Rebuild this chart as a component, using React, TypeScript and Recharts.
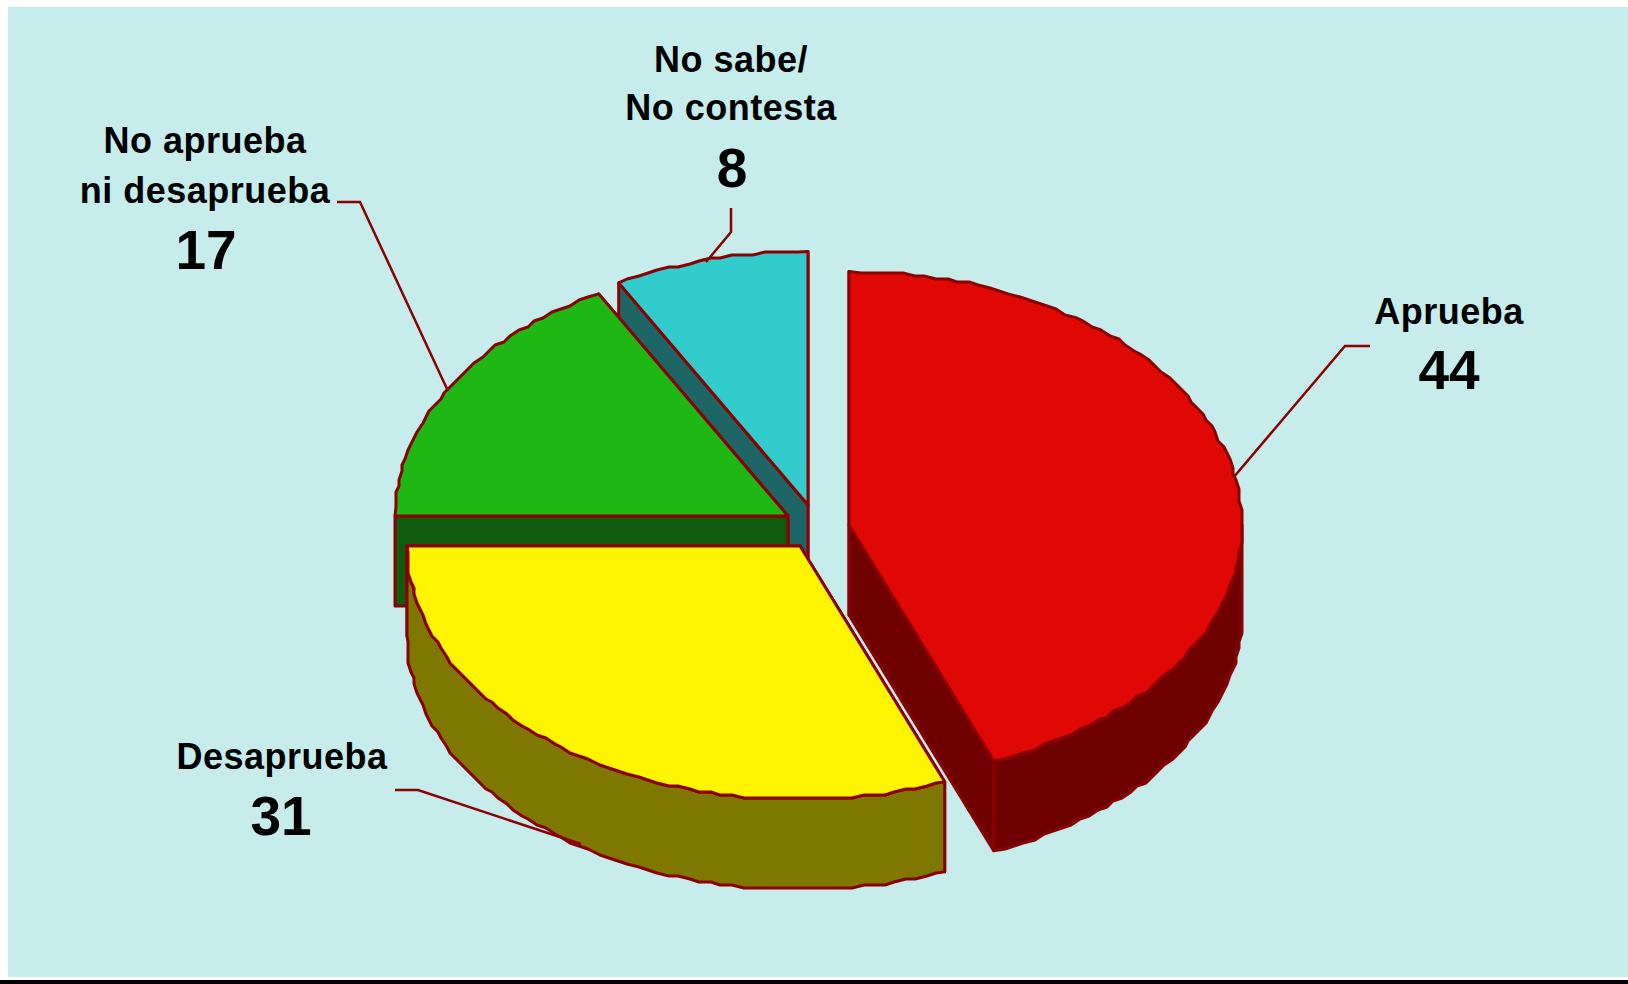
import React from "react";
import { PieChart, Pie } from "recharts";

const categories = ["No sabe / No contesta", "No aprueba ni desaprueba", "Desaprueba", "Aprueba"];
const values = [8, 17, 31, 44];
const topColors = ["#33CCCC", "#1FB714", "#FFF500", "#DF0804"];
const sideColors = ["#1E6666", "#0F5A0C", "#7F7800", "#6F0000"];
const labelLines = [["No sabe/", "No contesta"], ["No aprueba", "ni desaprueba"], ["Desaprueba"], ["Aprueba"]];

const EDGE = "#8B0000";
const TILT = 0.645; // ellipse height / width
const DEPTH = 90;
const GRID = 3; // the original arcs are stepped like an old metafile

// pull of each slice away from the pie centre, same order as categories
const explode = [
  [-12, -20],
  [-32, -9],
  [-20, 21],
  [29, 0],
];

// text anchor x, baselines per line, value baseline, leader line
const labelLayout = [
  { x: 731, lines: [72, 120], value: 187, vx: 732, leader: "731,208 731,232 706,262" },
  { x: 205, lines: [153, 203], value: 269, vx: 206, leader: "337,202 360,202 448,391" },
  { x: 282, lines: [769], value: 835, vx: 281, leader: "395,790 418,790 581,844" },
  { x: 1449, lines: [324], value: 389, vx: 1449, leader: "1370,346 1345,346 1233,478" },
];

const data = categories.map((name, i) => ({ name, value: values[i], fill: topColors[i], idx: i }));

const rad = (d: number) => (d * Math.PI) / 180;
const snap = (v: number) => Math.round(v / GRID) * GRID;

function arcPoints(cx: number, cy: number, r: number, from: number, to: number) {
  const pts: [number, number][] = [];
  const at = (a: number): [number, number] => [cx + r * Math.cos(rad(a)), cy - r * TILT * Math.sin(rad(a))];
  pts.push(at(from));
  const step = 1.6;
  for (let a = from + step; a < to - step / 2; a += step) {
    const [x, y] = at(a);
    pts.push([snap(x), snap(y)]);
  }
  pts.push(at(to));
  return pts;
}

const toD = (pts: [number, number][]) =>
  "M" + pts.map((p) => `${p[0].toFixed(1)},${p[1].toFixed(1)}`).join("L") + "Z";

function Slice3D(props: any) {
  const { cx, cy, outerRadius: r, startAngle, endAngle } = props;
  const idx = props.idx ?? props.payload?.idx ?? 0;
  const px = cx + explode[idx][0];
  const py = cy + explode[idx][1];
  const a0 = Math.min(startAngle, endAngle);
  const a1 = Math.max(startAngle, endAngle);
  const arc = arcPoints(px, py, r, a0, a1);
  const down = (pts: [number, number][]) => pts.map((p) => [p[0], p[1] + DEPTH] as [number, number]);
  const first = arc[0];
  const last = arc[arc.length - 1];
  const cut1: [number, number][] = [[px, py], first, [first[0], first[1] + DEPTH], [px, py + DEPTH]];
  const cut2: [number, number][] = [[px, py], last, [last[0], last[1] + DEPTH], [px, py + DEPTH]];

  // only the front half of the rim can be seen
  const frontFrom = Math.max(a0, 180);
  const frontTo = Math.min(a1, 360);
  const front = frontTo > frontFrom ? arcPoints(px, py, r, frontFrom, frontTo) : null;
  const common = { stroke: EDGE, strokeWidth: 3, strokeLinejoin: "round" as const };
  return (
    <g>
      <path d={toD(cut1)} fill={sideColors[idx]} {...common} />
      <path d={toD(cut2)} fill={sideColors[idx]} {...common} />
      {front && <path d={toD([...front, ...down(front).reverse()])} fill={sideColors[idx]} {...common} />}
      <path d={toD([[px, py], ...arc])} fill={topColors[idx]} {...common} />
    </g>
  );
}

function SliceLabel(props: any) {
  const idx = props.idx ?? props.payload?.idx ?? 0;
  const l = labelLayout[idx];
  return (
    <g fontFamily="'Liberation Sans', Arial, sans-serif" fontWeight="bold" fill="#000" textAnchor="middle">
      <polyline points={l.leader} fill="none" stroke={EDGE} strokeWidth={2.5} />
      {labelLines[idx].map((t, i) => (
        <text key={t} x={l.x} y={l.lines[i]} fontSize={36} letterSpacing={0.5} stroke="none">
          {t}
        </text>
      ))}
      <text x={l.vx} y={l.value} fontSize={55} stroke="none">
        {values[idx]}
      </text>
    </g>
  );
}

export default function App() {
  return (
    <div style={{ position: "absolute", left: 0, top: 0, width: 1628, height: 984, background: "#fff", overflow: "hidden" }}>
      <div style={{ position: "absolute", left: 8, top: 7, width: 1620, height: 970, background: "#C6EDEC" }} />
      <div style={{ position: "absolute", left: 0, top: 980, width: 1628, height: 4, background: "#000" }} />
      <div style={{ position: "absolute", left: 0, top: 0 }}>
        <PieChart width={1628} height={984} margin={{ top: 0, right: 0, bottom: 0, left: 0 }}>
          <Pie
            data={data}
            dataKey="value"
            nameKey="name"
            cx={820}
            cy={525}
            innerRadius={0}
            outerRadius={393}
            startAngle={90}
            endAngle={450}
            paddingAngle={0}
            stroke="none"
            shape={Slice3D}
            label={SliceLabel}
            labelLine={false}
            isAnimationActive={false}
          />
        </PieChart>
      </div>
    </div>
  );
}
